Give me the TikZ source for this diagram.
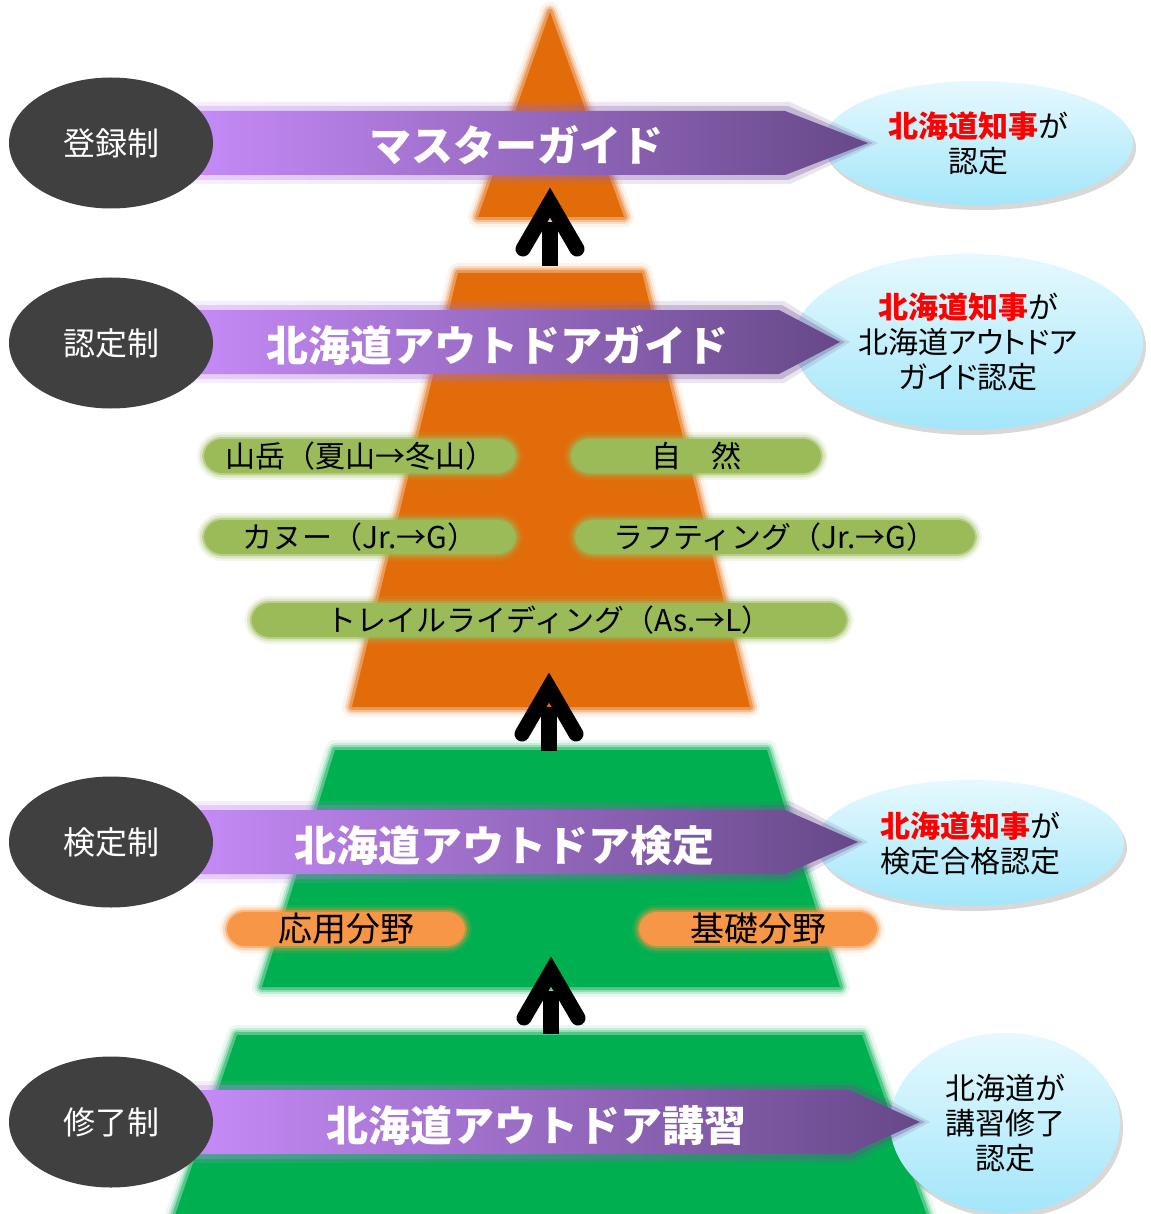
\documentclass[tikz,border=0pt]{standalone}
\usepackage{fontspec}
\setmainfont{Noto Sans CJK JP}
\newfontfamily\paltfont[RawFeature=+palt]{Noto Sans CJK JP}
\usetikzlibrary{shapes.geometric,shadows,calc}
\definecolor{orangeP}{HTML}{E36C0A}
\definecolor{greenP}{HTML}{00B050}
\definecolor{pillG}{HTML}{9BBB59}
\definecolor{pillO}{HTML}{F79646}
\definecolor{darkE}{HTML}{404040}
\definecolor{blueT}{HTML}{E6F9FE}
\definecolor{blueB}{HTML}{A3E6FA}
\definecolor{purpL}{HTML}{C88CFA}
\definecolor{purpR}{HTML}{664888}
\tikzset{
  soft/.style={fill=#1, draw=#1, line width=6pt, draw opacity=0.45, line join=round,
    preaction={draw=#1, line width=20pt, opacity=0.08, line join=round},
    preaction={draw=#1, line width=14pt, opacity=0.15, line join=round},
    preaction={draw=#1, line width=10pt, opacity=0.25, line join=round}},
  lvl/.style={text=white, font=\fontsize{42}{50}\selectfont\bfseries, inner sep=0pt},
  sys/.style={ellipse, fill=darkE, text=white, minimum width=204pt, minimum height=131pt,
    font=\fontsize{32}{36}\selectfont, inner sep=0pt},
  auth/.style={ellipse, top color=blueT, bottom color=blueB, draw=none,
    drop shadow={shadow xshift=3pt, shadow yshift=-5pt, opacity=0.3},
    align=center, font=\fontsize{30}{35}\selectfont, inner sep=0pt},
  pillbase/.style={rounded corners=18pt, fill=#1, draw=#1, line width=4pt, draw opacity=0.5,
    preaction={draw=#1, line width=14pt, opacity=0.12},
    preaction={draw=#1, line width=9pt, opacity=0.25},
    minimum height=34pt, inner sep=0pt},
  gpill/.style={pillbase=pillG, font=\fontsize{30}{34}\selectfont},
  opill/.style={pillbase=pillO, font=\fontsize{34}{40}\selectfont},
  shaft/.style={line width=16pt, black},
  head/.style={line width=15pt, black, line cap=round, line join=miter},
  banner/.style={left color=purpL, right color=purpR}
}
\begin{document}
\begin{tikzpicture}[x=1pt,y=-1pt]
\useasboundingbox (0,0) rectangle (1150,1214);
\fill[white] (0,0) rectangle (1150,1214);
\clip (0,0) rectangle (1150,1214);

% pyramid pieces
\path[soft=orangeP] (550,12) -- (624,217) -- (478,217) -- cycle;
\path[soft=orangeP] (458,273) -- (642,273) -- (750,707) -- (352,707) -- cycle;
\path[soft=greenP] (335,750) -- (767,750) -- (840,987) -- (262,987) -- cycle;
\path[soft=greenP] (237,1035) -- (862,1035) -- (932,1230) -- (170,1230) -- cycle;

% discipline pills
\node[gpill, minimum width=312pt] (p1) at (360,456) {山岳（夏山→冬山）};
\node[gpill, minimum width=250pt] (p2) at (696,456) {自　然};
\node[gpill, minimum width=312pt] (p3) at (360,537) {カヌー（Jr.→G）};
\node[gpill, minimum width=400pt] (p4) at (775,537) {ラフティング（Jr.→G）};
\node[gpill, minimum width=595pt] (p5) at (549,620) {トレイルライディング（As.→L）};
\node[opill, minimum width=238pt] (q1) at (346,929) {応用分野};
\node[opill, minimum width=238pt] (q2) at (758,929) {基礎分野};

% authority ellipses
\node[auth, minimum width=310pt, minimum height=124pt] (c1) at (978,143)
  {{\color{red}\bfseries 北海道知事}が\\認定};
\node[auth, minimum width=350pt, minimum height=176pt] (c2) at (968,342)
  {{\color{red}\bfseries 北海道知事}が\\{\paltfont 北海道アウトドア}\\{\paltfont ガイド}認定};
\node[auth, minimum width=308pt, minimum height=126pt] (c3) at (970,843)
  {{\color{red}\bfseries 北海道知事}が\\検定合格認定};
\node[auth, minimum width=230pt, minimum height=180pt] (c4) at (1005,1123)
  {北海道が\\講習修了\\認定};

% purple banners
\foreach \yc/\xr/\xt in {143/785/868, 342/779/840, 842/785/858, 1122/849/920}{
  \shade[banner, opacity=0.15] (175,\yc-41) -- (\xr+5,\yc-41) -- (\xt+10,\yc) -- (\xr+5,\yc+41) -- (175,\yc+41) -- cycle;
  \shade[banner, opacity=0.3] (175,\yc-37) -- (\xr+3,\yc-37) -- (\xt+5,\yc) -- (\xr+3,\yc+37) -- (175,\yc+37) -- cycle;
  \shade[banner] (175,\yc-32) -- (\xr,\yc-32) -- (\xt,\yc) -- (\xr,\yc+32) -- (175,\yc+32) -- cycle;
}

% level labels
\node[lvl] (l1) at (516,145) {マスターガイド};
\node[lvl] (l2) at (497,345) {北海道アウトドアガイド};
\node[lvl] (l3) at (504,846) {北海道アウトドア検定};
\node[lvl] (l4) at (536,1126) {北海道アウトドア講習};

% system ellipses
\node[sys] (s1) at (111,143) {登録制};
\node[sys] (s2) at (111,343) {認定制};
\node[sys] (s3) at (111,842) {検定制};
\node[sys] (s4) at (111,1122) {修了制};

% black upward arrows
\coordinate (t1) at (550,187); \coordinate (b1) at (550,266);
\coordinate (t2) at (549,672); \coordinate (b2) at (549,751);
\coordinate (t3) at (551,956); \coordinate (b3) at (551,1034);
\foreach \i in {1,2,3}{
  \draw[shaft] (b\i) -- ($(t\i)+(0,35)$);
  \draw[head] ($(t\i)+(-27,62)$) -- ($(t\i)+(0,15.5)$) -- ($(t\i)+(27,62)$);
}
\end{tikzpicture}
\end{document}
